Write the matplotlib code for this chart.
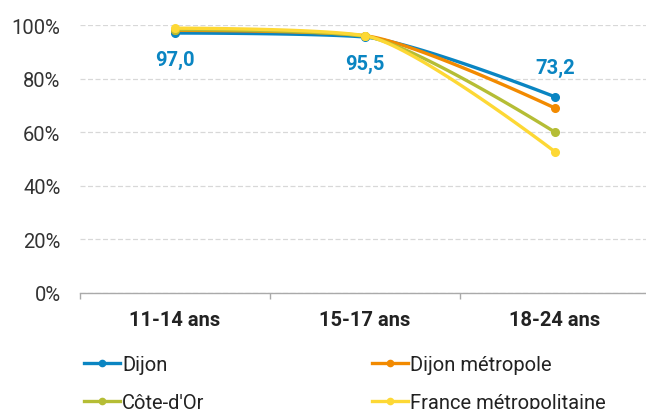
import matplotlib.pyplot as plt
import numpy as np

plt.rcParams['font.family'] = ['Roboto', 'DejaVu Sans']

categories = ['11-14 ans', '15-17 ans', '18-24 ans']
dijon = [97.0, 95.5, 73.2]
dijon_metropole = [98.0, 96.0, 69.0]
cote_dor = [98.3, 95.8, 60.0]
france_metro = [98.8, 96.0, 52.7]
yticks = [0, 20, 40, 60, 80, 100]

series = [
    ('Dijon', dijon, '#0a85c2'),
    ('Dijon métropole', dijon_metropole, '#f28a00'),
    ("Côte-d'Or", cote_dor, '#b5bd35'),
    ('France métropolitaine', france_metro, '#fdd835'),
]


# smooth curve through the points (highcharts-like spline)
def spline(xs, ys, s=1.5, n=40):
    xs = list(map(float, xs))
    ys = list(map(float, ys))
    m = len(xs)
    left = [(xs[i], ys[i]) for i in range(m)]
    right = [(xs[i], ys[i]) for i in range(m)]
    for i in range(1, m - 1):
        lx = (s * xs[i] + xs[i - 1]) / (s + 1)
        ly = (s * ys[i] + ys[i - 1]) / (s + 1)
        rx = (s * xs[i] + xs[i + 1]) / (s + 1)
        ry = (s * ys[i] + ys[i + 1]) / (s + 1)
        corr = (ry - ly) * (rx - xs[i]) / (rx - lx) + ys[i] - ry
        ly += corr
        ry += corr
        if ly > max(ys[i - 1], ys[i]):
            ly = max(ys[i - 1], ys[i])
            ry = 2 * ys[i] - ly
        elif ly < min(ys[i - 1], ys[i]):
            ly = min(ys[i - 1], ys[i])
            ry = 2 * ys[i] - ly
        if ry > max(ys[i + 1], ys[i]):
            ry = max(ys[i + 1], ys[i])
            ly = 2 * ys[i] - ry
        elif ry < min(ys[i + 1], ys[i]):
            ry = min(ys[i + 1], ys[i])
            ly = 2 * ys[i] - ry
        left[i] = (lx, ly)
        right[i] = (rx, ry)
    t = np.linspace(0, 1, n)
    px, py = [], []
    for i in range(m - 1):
        p0 = (xs[i], ys[i])
        p1 = right[i]
        p2 = left[i + 1]
        p3 = (xs[i + 1], ys[i + 1])
        for k in range(2):
            c = ((1 - t) ** 3 * p0[k] + 3 * (1 - t) ** 2 * t * p1[k]
                 + 3 * (1 - t) * t ** 2 * p2[k] + t ** 3 * p3[k])
            (px if k == 0 else py).extend(c)
    return px, py


fig = plt.figure(figsize=(6.46, 4.10), dpi=100)
ax = fig.add_axes([80 / 646, 1 - 294 / 410, 570 / 646, 268 / 410])

x = np.arange(len(categories))
handles = {}
for name, vals, col in series:
    sx, sy = spline(x, vals, s=3.0)
    ax.plot(sx, sy, color=col, lw=2.4, solid_capstyle='round', clip_on=False, zorder=3)
    ax.plot(x, vals, 'o', color=col, ms=5.5, clip_on=False, zorder=4)
    h, = ax.plot([], [], color=col, lw=2.4, marker='o', ms=4.5)
    handles[name] = h

# data labels for Dijon
offsets = [-19, -19, 21]
for i, v in enumerate(dijon):
    ax.annotate(f'{v:.1f}'.replace('.', ','), (x[i], v), xytext=(0, offsets[i]),
                textcoords='offset points', ha='center', va='center',
                color='#0a85c2', fontsize=14.5, fontweight='bold')

ax.set_xlim(-0.5, 2.5)
ax.set_ylim(0, 100)
ax.set_yticks(yticks)
ax.set_yticklabels([f'{v}%' for v in yticks], fontsize=14.5, color='#333333')
ax.yaxis.grid(True, color='#d8d8d8', ls=(0, (4, 2)), lw=0.9)
ax.set_axisbelow(True)
ax.tick_params(axis='y', length=0, pad=14)

ax.set_xticks(x)
ax.set_xticklabels(categories, fontsize=14.5, fontweight='bold', color='#222222')
ax.set_xticks([-0.5, 0.5, 1.5, 2.5], minor=True)
ax.tick_params(axis='x', which='major', length=0, pad=12)
ax.tick_params(axis='x', which='minor', length=4, color='#aaaaaa', width=1)

for sp in ['top', 'right', 'left']:
    ax.spines[sp].set_visible(False)
ax.spines['bottom'].set_color('#aaaaaa')
ax.spines['bottom'].set_linewidth(1)

# legend, two columns read row by row
cols = [['Dijon', "Côte-d'Or"], ['Dijon métropole', 'France métropolitaine']]
for xpos, names in zip([84, 372], cols):
    fig.legend([handles[n] for n in names], names, loc='upper left',
               bbox_to_anchor=(xpos / 646, 1 - 356 / 410), frameon=False,
               fontsize=14.5, handlelength=1.8, handletextpad=0.1,
               labelspacing=0.95, borderpad=0, borderaxespad=0,
               labelcolor='#222222')

fig.savefig('out.png', dpi=100)
